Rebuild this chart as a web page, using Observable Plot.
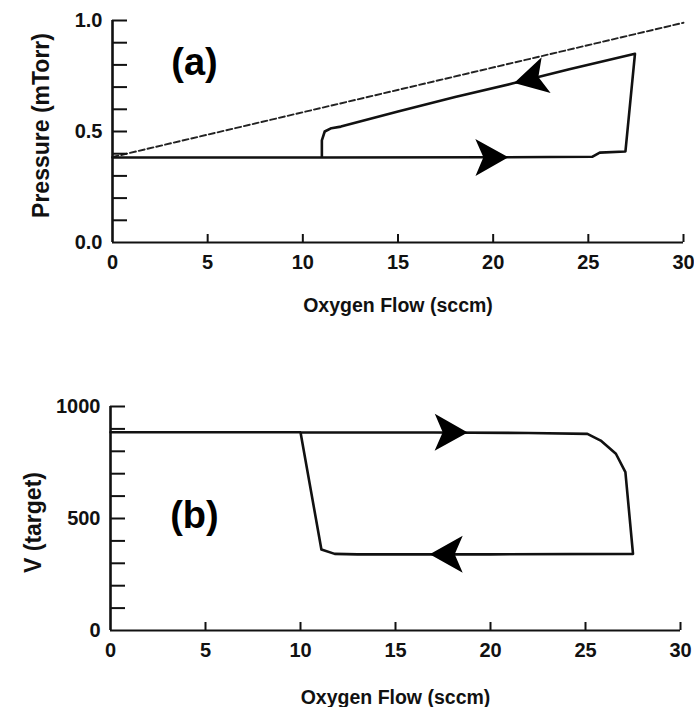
<!DOCTYPE html>
<html><head><meta charset="utf-8">
<script src="https://cdn.jsdelivr.net/npm/d3@7"></script>
<script src="https://cdn.jsdelivr.net/npm/@observablehq/plot@0.6"></script>
<style>
body{margin:0;background:#fff;}
#wrap{position:relative;width:694px;height:707px;background:#fff;overflow:hidden;}
#wrap>div{position:absolute;left:0;}
svg{font-family:"Liberation Sans",Arial,Helvetica,sans-serif;}
</style></head><body>
<div id="wrap"><div id="pa" style="top:0"></div><div id="pb" style="top:330px"></div></div>
<script>
// ---------- data: panel (a) pressure hysteresis ----------
const flowA     = [0, 11.0, 20, 25.2, 25.6, 26.95, 27.45, 24, 21, 18, 15, 12, 11.5, 11.15, 11.0, 11.0];
const pressureA = [0.383, 0.383, 0.384, 0.386, 0.405, 0.41, 0.85, 0.78, 0.716, 0.655, 0.59, 0.522, 0.515, 0.50, 0.46, 0.383];
const dashFlowA     = [0, 30];
const dashPressureA = [0.385, 0.99];
const arrowFlowA     = [20.8, 21.1];
const arrowPressureA = [0.384, 0.718];
const yTicksA  = [0, 0.5, 1.0];
const yMinorA  = [0.1, 0.2, 0.3, 0.4, 0.5, 0.6, 0.7, 0.8, 0.9, 1.0];
const xTicks   = [0, 5, 10, 15, 20, 25, 30];
const xMinor   = [5, 10, 15, 20, 25, 30];

// ---------- data: panel (b) target voltage hysteresis ----------
const flowB    = [0, 10, 17, 22, 25.1, 25.8, 26.6, 27.1, 27.5, 20, 13, 11.8, 11.1, 10.0];
const voltageB = [885, 885, 884, 882, 878, 848, 789, 707, 342, 340, 340, 342, 362, 885];
const arrowFlowB    = [18.8, 16.8];
const arrowVoltageB = [884, 340];
const yTicksB  = [0, 500, 1000];
const yMinorB  = [100, 200, 300, 400, 500, 600, 700, 800, 900, 1000];

const xLabel  = "Oxygen Flow (sccm)";
const yLabelA = "Pressure (mTorr)";
const yLabelB = "V (target)";
const panelA = {flow: 4.31, value: 0.81, text: "(a)"};
const panelB = {flow: 4.42, value: 513, text: "(b)"};

// ---------- helpers ----------
function arrowSymbol(angleDeg) {
  const a = angleDeg * Math.PI / 180, c = Math.cos(a), s = Math.sin(a);
  return {
    draw(ctx, size) {
      const k = Math.sqrt(size / Math.PI) / 10;
      const pts = [[0, 0], [-33 * k, -18.5 * k], [-25 * k, 0], [-33 * k, 18.5 * k]];
      pts.forEach(([x, y], i) => {
        const X = x * c - y * s, Y = x * s + y * c;
        i ? ctx.lineTo(X, Y) : ctx.moveTo(X, Y);
      });
      ctx.closePath();
    }
  };
}
// direction (screen degrees) of the loop segment nearest to each arrow tip
function arrowAngles(xs, ys, ax, ay, kx, ky) {
  return ax.map((x0, j) => {
    let best = Infinity, ang = 0;
    for (let i = 0; i < xs.length - 1; i++) {
      const x1 = xs[i] * kx, y1 = -ys[i] * ky, x2 = xs[i + 1] * kx, y2 = -ys[i + 1] * ky;
      const px = x0 * kx, py = -ay[j] * ky;
      const dx = x2 - x1, dy = y2 - y1, L2 = dx * dx + dy * dy || 1;
      let t = ((px - x1) * dx + (py - y1) * dy) / L2; t = Math.max(0, Math.min(1, t));
      const d = Math.hypot(px - (x1 + t * dx), py - (y1 + t * dy));
      if (d < best) { best = d; ang = Math.atan2(dy, dx) * 180 / Math.PI; }
    }
    return ang;
  });
}

function panel(cfg) {
  const {W, H, ml, mr, mt, mb, yDomain, xs, ys, ax, ay, yTicks, yMinor, yFmt, yLabel, yLabelDx, yLabelDy, xLabelDy, lab, extra} = cfg;
  const pw = W - ml - mr, ph = H - mt - mb;
  const kx = pw / 30, ky = ph / (yDomain[1] - yDomain[0]);
  const loop = xs.map((x, i) => ({x, y: ys[i]}));
  const arrows = ax.map((x, i) => ({x, y: ay[i]}));
  const angles = arrowAngles(xs, ys, ax, ay, kx, ky);
  const marks = [
    ...(extra || []),
    Plot.line(loop, {x: "x", y: "y", stroke: "#111", strokeWidth: 2.6, strokeLinejoin: "round", curve: "linear"}),
    ...arrows.map((d, i) => Plot.dot([d], {x: "x", y: "y", r: 10, fill: "#000", stroke: "none", symbol: arrowSymbol(angles[i])})),
    Plot.ruleY([yDomain[0]], {stroke: "#111", strokeWidth: 2}),
    Plot.ruleX([0], {stroke: "#111", strokeWidth: 2.6}),
    Plot.tickY(yMinor, {y: d => d, stroke: "#111", strokeWidth: 2, insetRight: pw - 15}),
    Plot.tickX(xMinor, {x: d => d, stroke: "#111", strokeWidth: 2, insetTop: ph - 8}),
    Plot.axisY(yTicks, {tickSize: 0, tickPadding: 10, tickFormat: yFmt, fontSize: 20, fontWeight: "bold", fill: "#111", label: null}),
    Plot.axisX(xTicks, {tickSize: 0, tickPadding: 12, tickFormat: d => String(d), fontSize: 20, fontWeight: "bold", fill: "#111", label: null}),
    Plot.text([xLabel], {text: d => d, frameAnchor: "bottom", dy: xLabelDy, lineAnchor: "middle", textAnchor: "middle", fontSize: 19.5, fontWeight: "bold", fill: "#111"}),
    Plot.text([yLabel], {text: d => d, frameAnchor: "left", dx: yLabelDx, dy: yLabelDy, rotate: -90, lineAnchor: "middle", textAnchor: "middle", fontSize: 23, fontWeight: "bold", fill: "#111"}),
    Plot.text([lab], {x: "flow", y: "value", text: "text", fontSize: 38, fontWeight: "bold", fill: "#000"})
  ];
  return Plot.plot({
    width: W, height: H, marginLeft: ml, marginRight: mr, marginTop: mt, marginBottom: mb,
    x: {domain: [0, 30], axis: null},
    y: {domain: yDomain, axis: null},
    style: {background: "#fff", overflow: "visible"},
    marks
  });
}

const dash = dashFlowA.map((x, i) => ({x, y: dashPressureA[i]}));
document.getElementById("pa").append(panel({
  W: 694, H: 330, ml: 112, mr: 11, mt: 20, mb: 88, yDomain: [0, 1],
  xs: flowA, ys: pressureA, ax: arrowFlowA, ay: arrowPressureA,
  yTicks: yTicksA, yMinor: yMinorA, yFmt: d3.format(".1f"), yLabel: yLabelA,
  yLabelDx: -71, yLabelDy: -6, xLabelDy: 63, lab: panelA,
  extra: [Plot.line(dash, {x: "x", y: "y", stroke: "#222", strokeWidth: 1.9, strokeDasharray: "6,3"})]
}));
document.getElementById("pb").append(panel({
  W: 694, H: 377, ml: 110, mr: 14, mt: 76, mb: 77, yDomain: [0, 1000],
  xs: flowB, ys: voltageB, ax: arrowFlowB, ay: arrowVoltageB,
  yTicks: yTicksB, yMinor: yMinorB, yFmt: d => String(d), yLabel: yLabelB,
  yLabelDx: -77, yLabelDy: 4, xLabelDy: 67, lab: panelB
}));
</script></body></html>
